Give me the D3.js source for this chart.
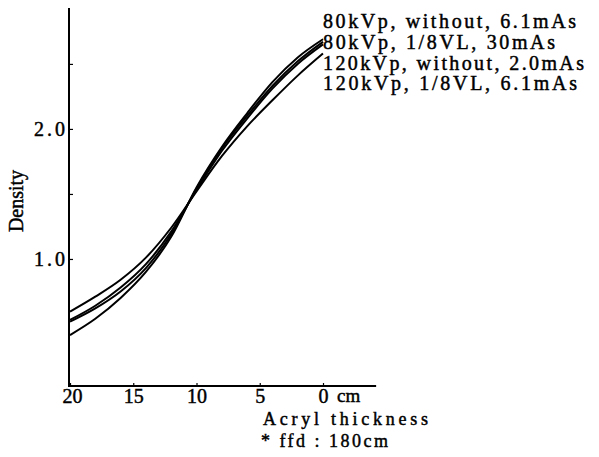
<!DOCTYPE html>
<html><head><meta charset="utf-8">
<script src="https://cdn.jsdelivr.net/npm/d3@7"></script>
<style>
html,body{margin:0;padding:0;background:#fff;}
text{font-family:"Liberation Serif","DejaVu Serif",serif;fill:#000;stroke:#000;stroke-width:0.45px;}
</style></head>
<body><svg id="c" width="599" height="457"></svg>
<script>
const thickness = [20,18,16,14,12,10,8,6,4,2,0];
const series80Without  = [0.415,0.54,0.70,0.90,1.17,1.55,1.86,2.12,2.36,2.55,2.69];
const series80VL       = [0.518,0.62,0.75,0.93,1.19,1.54,1.85,2.10,2.33,2.52,2.67];
const series120VL      = [0.531,0.64,0.78,0.96,1.21,1.53,1.83,2.08,2.31,2.50,2.65];
const series120Without = [0.595,0.71,0.84,1.01,1.24,1.52,1.79,2.02,2.22,2.41,2.58];
const legendLabels = ["80kVp, without, 6.1mAs","80kVp, 1/8VL, 30mAs","120kVp, without, 2.0mAs","120kVp, 1/8VL, 6.1mAs"];
const xTicks = [20,15,10,5,0];
const yTicks = [1,1.5,2,2.5];
const yLabelTicks = [1,2];

const svg = d3.select("#c");
const x = d3.scaleLinear().domain([20,0]).range([70,323]);
const y = d3.scaleLinear().domain([0.023,2.93]).range([386,8]);

// axes lines
svg.append("line").attr("x1",69).attr("x2",69).attr("y1",y(2.93)).attr("y2",y(0.023)+1)
  .attr("stroke","#000").attr("stroke-width",2);
svg.append("line").attr("x1",68).attr("x2",x(-4.2)).attr("y1",386).attr("y2",386)
  .attr("stroke","#000").attr("stroke-width",2);

const yAx = svg.append("g").attr("transform","translate(69,0)")
  .call(d3.axisLeft(y).tickValues(yTicks).tickSizeInner(-4).tickSizeOuter(0).tickPadding(4)
    .tickFormat(d => yLabelTicks.includes(d) ? d.toFixed(1) : ""));
yAx.select(".domain").remove();
yAx.selectAll("line").attr("stroke","#000").attr("stroke-width",1.2);
yAx.selectAll("text").attr("font-size",20).attr("dy","0.35em")
  .attr("textLength",31).attr("lengthAdjust","spacing");

const xAx = svg.append("g").attr("transform","translate(0,386)")
  .call(d3.axisBottom(x).tickValues(xTicks).tickSizeInner(-3).tickSizeOuter(0).tickPadding(3)
    .tickFormat(d => String(d)));
xAx.select(".domain").remove();
xAx.selectAll("line").attr("stroke","#000").attr("stroke-width",1.2);
xAx.selectAll("text").attr("font-size",20).attr("dy","0.72em");
xAx.selectAll(".tick").filter(d => d === 20).select("text").attr("dx", 2);

svg.append("text").attr("x",x(0)+14).attr("y",402).attr("font-size",19).text("cm");

svg.append("text").attr("transform","translate(23,201) rotate(-90)").attr("text-anchor","middle")
  .attr("font-size",20).text("Density");

svg.append("text").attr("x",263).attr("y",425).attr("font-size",18)
  .attr("textLength",165).attr("lengthAdjust","spacing").text("Acryl  thickness");
svg.append("text").attr("x",261).attr("y",447).attr("font-size",18)
  .attr("textLength",127).attr("lengthAdjust","spacing").text("* ffd : 180cm");

// curves
const allSeries = [series80Without, series80VL, series120VL, series120Without];
const line = d3.line().x(d => x(d[0])).y(d => y(d[1])).curve(d3.curveMonotoneX);
allSeries.forEach(s => {
  svg.append("path").attr("d", line(thickness.map((t,i)=>[t,s[i]])))
    .attr("fill","none").attr("stroke","#000").attr("stroke-width",2);
});

// legend text
const legendWidths = [253,232,261,254];
const legendY = [28,48.5,70,90];
legendLabels.forEach((t,i) => {
  svg.append("text").attr("x",323).attr("y",legendY[i]).attr("font-size",20)
    .attr("textLength",legendWidths[i]).attr("lengthAdjust","spacing").text(t);
});
</script></body></html>
